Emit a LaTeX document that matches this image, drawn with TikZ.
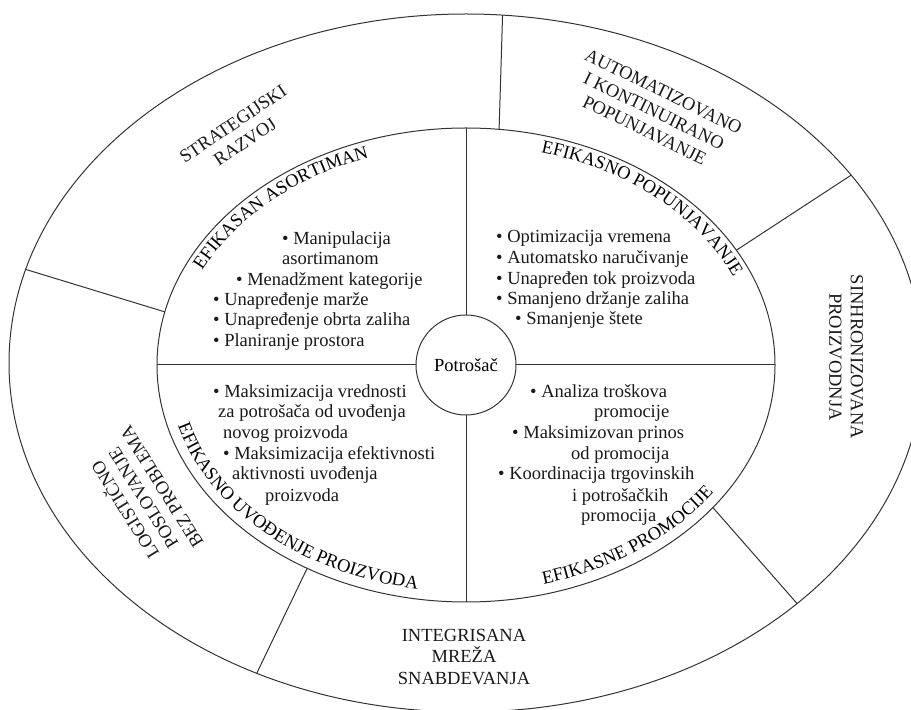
\documentclass[tikz,border=0pt]{standalone}
\usepackage{fontspec}
\setmainfont{Liberation Serif}
\usetikzlibrary{shapes.geometric,decorations.text,calc}
\newcommand\lblfont{\fontsize{18.5}{21.5}\selectfont}
\begin{document}
\begin{tikzpicture}[x=1pt,y=1pt,
  ln/.style={line width=1pt, draw=black!80},
  bl/.style={anchor=base west, inner sep=0pt, font=\lblfont, text=black!90},
  ring/.style={align=center, inner sep=0pt, font=\lblfont, text=black!90},
  curv/.style={decorate, decoration={text along path, text align=center, text={|\lblfont|#1}}}
]
\useasboundingbox (0,0) rectangle (911,710);
\clip (0,0) rectangle (911,710);
\coordinate (c) at (466,345);
\coordinate (co) at (466,347);
% ellipses
\node[ellipse, ln, draw, minimum width=914pt, minimum height=698pt, inner sep=0pt, outer sep=0pt] (outer) at (co) {};
\node[ellipse, ln, draw, minimum width=618pt, minimum height=474pt, inner sep=0pt, outer sep=0pt] (inner) at (c) {};
\node[circle, ln, draw, minimum size=100pt, inner sep=0pt, outer sep=0pt, font=\lblfont] (p) at (c) {Potrošač};
% quadrant lines
\draw[ln] (p.west) -- (inner.west);
\draw[ln] (p.east) -- (inner.east);
\draw[ln] (p.north) -- (inner.north);
\draw[ln] (p.south) -- (inner.south);
% outer separators
\draw[ln] (inner.82) -- (outer.84);
\draw[ln] (inner.23) -- (outer.26);
\draw[ln] (inner.-30) -- (outer.-36);
\draw[ln] (inner.232) -- (outer.236);
\draw[ln] (inner.170) -- (outer.168);
% outer ring labels
\node[ring, rotate=34] (sr) at (239,577) {STRATEGIJSKI\\RAZVOJ};
\node[ring, rotate=-26] (ak) at (654,599) {AUTOMATIZOVANO\\I KONTINUIRANO\\POPUNJAVANJE};
\node[ring, rotate=-90] (sp) at (846,353) {SINHRONIZOVANA\\PROIZVODNJA};
\node[ring] (im) at (464,53) {INTEGRISANA\\MREŽA\\SNABDEVANJA};
\node[ring, rotate=122] (lp) at (142,211) {LOGISTIČNO\\POSLOVANJE\\BEZ PROBLEMA};
% curved inner labels
\path[curv={EFIKASAN ASORTIMAN}] ($(c)+(160:292pt and 220pt)$) arc[start angle=160, end angle=105, x radius=292pt, y radius=220pt];
\path[curv={EFIKASNO POPUNJAVANJE}] ($(c)+(82:292pt and 220pt)$) arc[start angle=82, end angle=15, x radius=292pt, y radius=220pt];
\path[curv={EFIKASNO UVOĐENJE PROIZVODA}] ($(c)+(186:299pt and 227pt)$) arc[start angle=186, end angle=268, x radius=299pt, y radius=227pt];
\path[curv={EFIKASNE PROMOCIJE}] ($(c)+(-80:299pt and 227pt)$) arc[start angle=-80, end angle=-28, x radius=299pt, y radius=227pt];
% upper left
\node[bl] (a1) at (282,465) {• Manipulacija};
\node[bl] (a2) at (282,445) {asortimanom};
\node[bl] (a3) at (236,424) {• Menadžment kategorije};
\node[bl] (a4) at (213,404) {• Unapređenje marže};
\node[bl] (a5) at (213,384) {• Unapređenje obrta zaliha};
\node[bl] (a6) at (213,363) {• Planiranje prostora};
% upper right
\node[bl] (b1) at (496,467) {• Optimizacija vremena};
\node[bl] (b2) at (496,446) {• Automatsko naručivanje};
\node[bl] (b3) at (496,425) {• Unapređen tok proizvoda};
\node[bl] (b4) at (496,405) {• Smanjeno držanje zaliha};
\node[bl] (b5) at (515,385) {• Smanjenje štete};
% lower left
\node[bl] (d1) at (213,312) {• Maksimizacija vrednosti};
\node[bl] (d2) at (218,292) {za potrošača od uvođenja};
\node[bl] (d3) at (223,271) {novog proizvoda};
\node[bl] (d4) at (223,250) {• Maksimizacija efektivnosti};
\node[bl] (d5) at (232,230) {aktivnosti uvođenja};
\node[bl] (d6) at (265,208) {proizvoda};
% lower right
\node[bl] (e1) at (530,312) {• Analiza troškova};
\node[bl] (e2) at (594,292) {promocije};
\node[bl] (e3) at (512,271) {• Maksimizovan prinos};
\node[bl] (e4) at (571,250) {od promocija};
\node[bl] (e5) at (498,230) {• Koordinacija trgovinskih};
\node[bl] (e6) at (572,208) {i potrošačkih};
\node[bl] (e7) at (581,188) {promocija};
\end{tikzpicture}
\end{document}
